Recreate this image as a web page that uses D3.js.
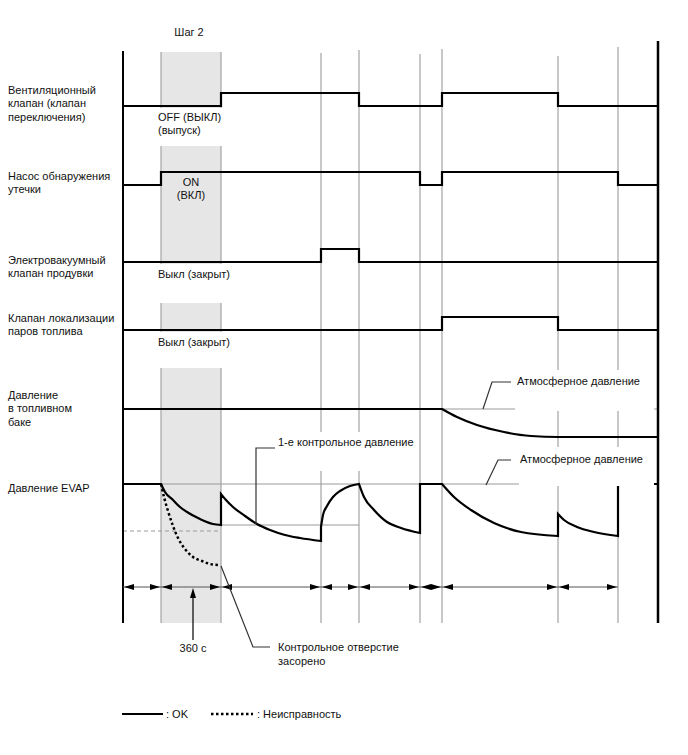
<!DOCTYPE html>
<html><head><meta charset="utf-8">
<script src="https://cdn.jsdelivr.net/npm/d3@7"></script>
<style>
html,body{margin:0;padding:0;background:#fff;}
svg text{font-family:"Liberation Sans",Arial,sans-serif;font-size:11px;fill:#111;}
</style></head>
<body>
<svg id="c" width="688" height="755"></svg>
<script>
// ---------- DATA ----------
// event boundaries (seconds from start)
const times = [0, 228, 588, 1188, 1416, 1782, 1914, 2610, 2970, 3210];
// on/off state of each actuator for every interval between boundaries
const ventValve  = [0, 0, 1, 1, 0, 0, 1, 0, 0];
const leakPump   = [0, 1, 1, 1, 1, 0, 1, 1, 0];
const purgeVSV   = [0, 0, 0, 1, 0, 0, 0, 0, 0];
const vaporValve = [0, 0, 0, 0, 0, 0, 1, 0, 0];

const rowLabels = [
  ["Вентиляционный", "клапан (клапан", "переключения)"],
  ["Насос обнаружения", "утечки"],
  ["Электровакуумный", "клапан продувки"],
  ["Клапан локализации", "паров топлива"],
  ["Давление", "в топливном", "баке"],
  ["Давление EVAP"]
];

// tank pressure relative to atmosphere (arbitrary kPa units)
const tankPressure = [
  [[0, 0], [1914, 0]],
  [[1914, 0], [2004, -0.8], [2124, -1.6], [2286, -2.3], [2448, -2.7], [2610, -2.8], [3210, -2.8]]
];
// EVAP pressure (OK case) relative to atmosphere, in segments
const evapPressure = [
  [[0, 0], [228, 0]],
  [[228, 0], [252, -0.8], [300, -1.6], [342, -2.3], [384, -2.8], [462, -3.5], [540, -4.0], [588, -4.1]],
  [[588, -1.0], [618, -1.6], [660, -2.3], [732, -3.2], [804, -4.0], [882, -4.6], [972, -5.1], [1062, -5.4], [1188, -5.7]],
  [[1188, -4.3], [1200, -3.1], [1224, -2.2], [1260, -1.3], [1302, -0.7], [1362, -0.2], [1416, 0]],
  [[1416, 0], [1446, -1.3], [1506, -2.6], [1584, -3.8], [1668, -4.4], [1782, -4.9]],
  [[1782, 0], [1914, 0]],
  [[1914, 0], [1986, -1.3], [2088, -2.6], [2226, -3.9], [2388, -4.8], [2610, -5.2]],
  [[2610, -3.0], [2646, -3.6], [2724, -4.3], [2826, -4.8], [2970, -5.2]],
  [[2970, 0], [3210, 0]]
];
// EVAP pressure, malfunction (reference orifice clogged)
const evapFault = [[228, 0], [246, -1.3], [270, -2.7], [300, -4.2], [330, -5.4], [372, -6.5], [420, -7.3], [474, -7.7], [522, -8.0], [570, -8.1]];
const faultRefLevel = -4.7;          // dashed reference
const firstCheckLevel = -4.1;        // 1st check pressure
const firstCheckSpan = [588, 1416];
const stepSpan = [228, 588];         // "Шаг 2", 360 s
const dimBoundaries = [0, 228, 588, 1188, 1416, 1782, 1914, 2610, 2970];

// ---------- LAYOUT ----------
const svg = d3.select("#c");
const x = d3.scaleLinear().domain([0, 3210]).range([123, 658]);
const axisTop = 51, axisBottom = 623;
const stepLows = [106, 185, 262, 330];
const stepH = 13;
const evapY = d3.scaleLinear().domain([0, -10]).range([484, 584]);
const tankY = d3.scaleLinear().domain([0, -10]).range([409, 509]);
const grayTops = [52, 52, 53, 50, 54, 49, 56, 47];
const dimY = 587;

const gShade = svg.append("g");
const gGray = svg.append("g");
const gBox = svg.append("g");
const gLines = svg.append("g");
const gBox2 = svg.append("g");
const gText = svg.append("g");

// shaded step 2 area
gShade.append("rect")
  .attr("x", x(stepSpan[0])).attr("y", 52)
  .attr("width", x(stepSpan[1]) - x(stepSpan[0])).attr("height", axisBottom - 52)
  .attr("fill", "#e6e6e6");

// gray vertical event lines
times.slice(1, -1).forEach((t, i) => {
  gGray.append("line")
    .attr("x1", x(t)).attr("x2", x(t))
    .attr("y1", grayTops[i]).attr("y2", axisBottom)
    .attr("stroke", "#a3a3a3").attr("stroke-width", 1.2);
});

// white label backgrounds (under black lines)
[[155, 108, 73, 38], [155, 264, 80, 39], [155, 332, 80, 36], [276, 432, 140, 39]].forEach(b => {
  gBox.append("rect").attr("x", b[0]).attr("y", b[1]).attr("width", b[2]).attr("height", b[3]).attr("fill", "#fff");
});

// thin reference lines
const thin = (x1, x2, y, dash) => gGray.append("line")
  .attr("x1", x1).attr("x2", x2).attr("y1", y).attr("y2", y)
  .attr("stroke", "#9a9a9a").attr("stroke-width", 1)
  .attr("stroke-dasharray", dash || null);
thin(x(0), x(3210), tankY(0));
thin(x(0), x(3210), evapY(0));
thin(x(0), x(stepSpan[1]), evapY(faultRefLevel), "4,3");
thin(x(firstCheckSpan[0]), x(firstCheckSpan[1]), evapY(firstCheckLevel));

// axes (black verticals)
gLines.append("line").attr("x1", x(0)).attr("x2", x(0)).attr("y1", axisTop).attr("y2", axisBottom)
  .attr("stroke", "#000").attr("stroke-width", 2);
gLines.append("line").attr("x1", x(3210)).attr("x2", x(3210)).attr("y1", 41).attr("y2", axisBottom)
  .attr("stroke", "#000").attr("stroke-width", 2.5);

// step signals
[ventValve, leakPump, purgeVSV, vaporValve].forEach((states, r) => {
  const y = d3.scaleLinear().domain([0, 1]).range([stepLows[r], stepLows[r] - stepH]);
  const pts = states.map((s, i) => [times[i], s]).concat([[times[times.length - 1], states[states.length - 1]]]);
  gLines.append("path")
    .attr("d", d3.line().x(d => x(d[0])).y(d => y(d[1])).curve(d3.curveStepAfter)(pts))
    .attr("fill", "none").attr("stroke", "#000").attr("stroke-width", 2.2);
});

// pressure curves
function segPath(segs, yS) {
  const gen = d3.line().x(d => x(d[0])).y(d => yS(d[1])).curve(d3.curveMonotoneX);
  return segs.map((s, i) => { const d = gen(s); return i ? "L" + d.slice(1) : d; }).join("");
}
gLines.append("path").attr("d", segPath(tankPressure, tankY))
  .attr("fill", "none").attr("stroke", "#000").attr("stroke-width", 2.2);
gLines.append("path").attr("d", segPath(evapPressure, evapY))
  .attr("fill", "none").attr("stroke", "#000").attr("stroke-width", 2.2);
gLines.append("path")
  .attr("d", d3.line().x(d => x(d[0])).y(d => evapY(d[1])).curve(d3.curveMonotoneX)(evapFault))
  .attr("fill", "none").attr("stroke", "#000").attr("stroke-width", 2.5).attr("stroke-dasharray", "2.5,2.5");

// right-side label backgrounds (cover lines)
[[515, 370, 139, 41], [519, 447, 135, 39]].forEach(b => {
  gBox2.append("rect").attr("x", b[0]).attr("y", b[1]).attr("width", b[2]).attr("height", b[3]).attr("fill", "#fff");
});

// dimension line with arrows
const gDim = svg.append("g");
gDim.append("line").attr("x1", x(dimBoundaries[0])).attr("x2", x(dimBoundaries[dimBoundaries.length - 1]))
  .attr("y1", dimY).attr("y2", dimY).attr("stroke", "#555").attr("stroke-width", 1);
const arrow = (tx, dir) => {
  // dir = -1 points left, +1 points right; tip at tx
  const L = 10, h = 3;
  gDim.append("path")
    .attr("d", `M${tx},${dimY}L${tx - dir * L},${dimY - h}L${tx - dir * L},${dimY + h}Z`)
    .attr("fill", "#000");
};
for (let i = 0; i < dimBoundaries.length - 1; i++) {
  arrow(x(dimBoundaries[i]) + 1, -1);
  arrow(x(dimBoundaries[i + 1]) - 1, 1);
}
// 360 s up arrow
const midStep = x((stepSpan[0] + stepSpan[1]) / 2) + 2;
gDim.append("line").attr("x1", midStep).attr("x2", midStep).attr("y1", 640).attr("y2", dimY + 8)
  .attr("stroke", "#000").attr("stroke-width", 1.2);
gDim.append("path").attr("d", `M${midStep},${dimY + 1}L${midStep - 3},${dimY + 11}L${midStep + 3},${dimY + 11}Z`).attr("fill", "#000");

// leaders
const leader = (pts, color) => gDim.append("path").attr("d", d3.line()(pts))
  .attr("fill", "none").attr("stroke", color || "#333").attr("stroke-width", 1.2);
// clogged orifice
const fEnd = evapFault[evapFault.length - 1];
leader([[x(fEnd[0]) + 3, evapY(fEnd[1]) + 1], [253, 647], [270, 647]]);
// first check pressure
leader([[275, 448], [256, 448], [256, evapY(-4.0)]]);
// atmospheric labels
leader([[511, 382], [492, 382], [483, tankY(0)]]);
leader([[511, 460], [498, 460], [486, evapY(0) + 1]]);

// ---------- TEXT ----------
const txt = (s, tx, ty, anchor) => gText.append("text").attr("x", tx).attr("y", ty)
  .attr("dy", "0.35em").attr("text-anchor", anchor || "start").text(s);
const labelTops = [90, 176, 260, 318, 395, 488];
rowLabels.forEach((lines, r) => lines.forEach((s, j) => txt(s, 8, labelTops[r] + j * 13.5)));

txt("Шаг 2", x((stepSpan[0] + stepSpan[1]) / 2) - 2, 32, "middle");
txt("OFF (ВЫКЛ)", 158, 117);
txt("(выпуск)", 158, 130);
txt("ON", x((stepSpan[0] + stepSpan[1]) / 2), 182, "middle");
txt("(ВКЛ)", x((stepSpan[0] + stepSpan[1]) / 2), 195, "middle");
txt("Выкл (закрыт)", 158, 274);
txt("Выкл (закрыт)", 158, 342);
txt("1-е контрольное давление", 278, 442);
txt("Атмосферное давление", 517, 381);
txt("Атмосферное давление", 520, 459);
txt("360 с", midStep, 648, "middle");
txt("Контрольное отверстие", 278, 647);
txt("засорено", 278, 661);

// legend
svg.append("line").attr("x1", 122).attr("x2", 163).attr("y1", 714).attr("y2", 714)
  .attr("stroke", "#000").attr("stroke-width", 2);
txt(": OK", 166, 714);
svg.append("line").attr("x1", 211).attr("x2", 253).attr("y1", 714).attr("y2", 714)
  .attr("stroke", "#000").attr("stroke-width", 2.5).attr("stroke-dasharray", "2.5,2.5");
txt(": Неисправность", 257, 714);
</script>
</body></html>
